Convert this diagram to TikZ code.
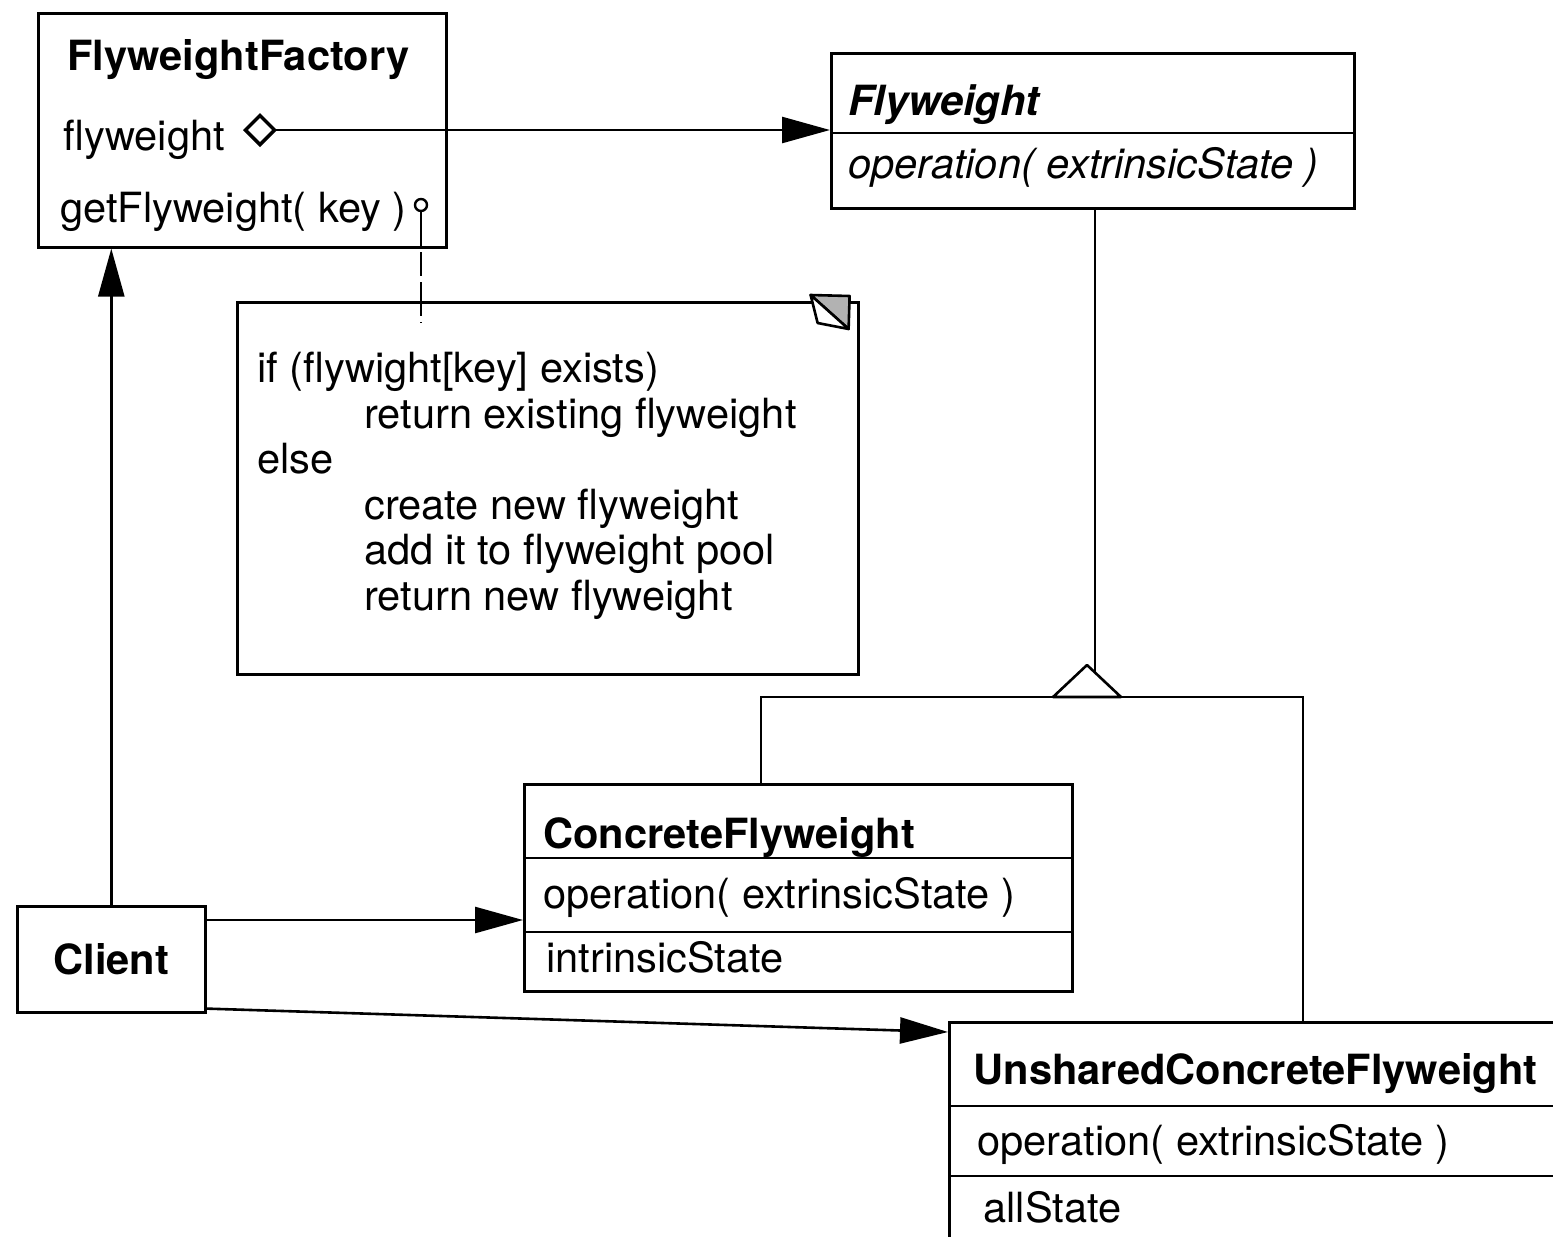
\documentclass[tikz,border=0pt]{standalone}
\usepackage{fontspec}
\setmainfont{TeX Gyre Heros}
\usetikzlibrary{arrows.meta,calc}
\newcommand\umlfont{\fontsize{20.8}{22.75}\selectfont}
\tikzset{
  class box/.style={draw, line width=1.3pt, anchor=north west,
    inner sep=0pt, fill=white},
  member/.style={anchor=base west, inner sep=0pt, font=\umlfont},
  class name/.style={member, font=\umlfont\bfseries},
  assoc arrow/.style={-{Triangle[length=24pt,width=13pt]}, line width=1.3pt},
  uml line/.style={line width=1.3pt},
}

\begin{document}
\begin{tikzpicture}[x=0.5pt,y=-0.5pt]
\clip (0,0) rectangle (1553,1237);

% --- CLASS BOXES ---
\node[class box, minimum width=204pt, minimum height=117pt]
  (factory) at (37,12) {};
\node[class box, minimum width=261.5pt, minimum height=77.5pt]
  (flyweight) at (830,52) {};
\node[class box, minimum width=310.5pt, minimum height=186pt]
  (note) at (236,301) {};
\node[class box, minimum width=274pt, minimum height=103.5pt]
  (concrete) at (523,783) {};
\node[class box, minimum width=94pt, minimum height=53pt]
  (client) at (16,905) {};
\node[class box, minimum width=330pt, minimum height=130pt]
  (unshared) at (948,1021) {};

% compartment lines
\draw[uml line] ([yshift=-40.5pt]flyweight.north west) -- ([yshift=-40.5pt]flyweight.north east);
\draw[uml line] ([yshift=-37.5pt]concrete.north west) -- ([yshift=-37.5pt]concrete.north east);
\draw[uml line] ([yshift=-74.5pt]concrete.north west) -- ([yshift=-74.5pt]concrete.north east);
\draw[uml line] ([yshift=-42.5pt]unshared.north west) -- ([yshift=-42.5pt]unshared.north east);
\draw[uml line] ([yshift=-77.5pt]unshared.north west) -- ([yshift=-77.5pt]unshared.north east);

% --- LABELS ---
\node[class name] (factoryName) at (67,70) {FlyweightFactory};
\node[member] (factoryAttr) at (63,150) {flyweight};
\node[member] (factoryOp) at (60,222) {getFlyweight( key )};

\node[class name, font=\umlfont\bfseries\itshape] (flyName) at (848,115) {Flyweight};
\node[member, font=\umlfont\itshape] (flyOp) at (848,178) {operation( extrinsicState )};

\node[class name] (concreteName) at (543,848) {ConcreteFlyweight};
\node[member] (concreteOp) at (543,908) {operation( extrinsicState )};
\node[member] (concreteState) at (546,972) {intrinsicState};

\node[class name, anchor=center] (clientName) at (client.center) {Client};

\node[class name] (unsharedName) at (973,1084) {UnsharedConcreteFlyweight};
\node[member] (unsharedOp) at (977,1155) {operation( extrinsicState )};
\node[member] (unsharedState) at (983,1222) {allState};

% --- NOTE ---
\node[member, anchor=north west, align=left] (noteText) at (257,352)
  {if (flywight[key] exists)\\
   \hspace*{53.5pt}return existing flyweight\\
   else\\
   \hspace*{53.5pt}create new flyweight\\
   \hspace*{53.5pt}add it to flyweight pool\\
   \hspace*{53.5pt}return new flyweight};
% dog-ear
\filldraw[fill=black!30, uml line, line join=round]
  ($(note.north east)+(-49,-6)$) -- ($(note.north east)+(-10,-5)$)
  -- ($(note.north east)+(-11,28)$) -- cycle;
\filldraw[fill=white, uml line, line join=round]
  ($(note.north east)+(-49,-6)$) -- ($(note.north east)+(-42,22)$)
  -- ($(note.north east)+(-11,28)$) -- cycle;

% note anchor on getFlyweight
\node[draw, circle, inner sep=0pt, minimum size=6pt, line width=1.2pt]
  (keyDot) at (421,205) {};
\coordinate (noteHook) at (421,323);
\draw[line width=1.2pt, dash pattern=on 17pt off 3pt on 12pt off 3pt]
  (keyDot.south) -- (keyDot.south |- noteHook);

% --- AGGREGATION: factory -> flyweight ---
\coordinate (aggStart) at (243,130);
\draw[{Diamond[open,length=17pt,width=17pt,line width=1.7pt]}-{Triangle[length=24pt,width=13pt]}, uml line]
  (aggStart) -- (aggStart -| flyweight.west);

% --- GENERALIZATION ---
\coordinate (genApex) at (1087,665);
\coordinate (genJoin) at (1095,672);
\coordinate (barL) at (761,697);
\coordinate (barR) at (1303,697);
\draw[uml line] (genJoin |- flyweight.south) -- (genJoin);
\draw[uml line] (barL |- concrete.north) -- (barL) -- (barR) -- (barR |- unshared.north);
\draw[uml line, line join=round] (genApex) -- ++(-34,32) -- ++(68,0) -- cycle;

% --- CLIENT ASSOCIATIONS ---
\draw[assoc arrow] (client.north) -- (client.north |- factory.south);
\draw[assoc arrow] ([yshift=-7.5pt]client.north east)
  -- ([yshift=-7.5pt]client.north east -| concrete.west);
\draw[assoc arrow] ([yshift=2.5pt]client.south east)
  -- ([yshift=-5.5pt]unshared.north west);

\end{tikzpicture}
\end{document}
